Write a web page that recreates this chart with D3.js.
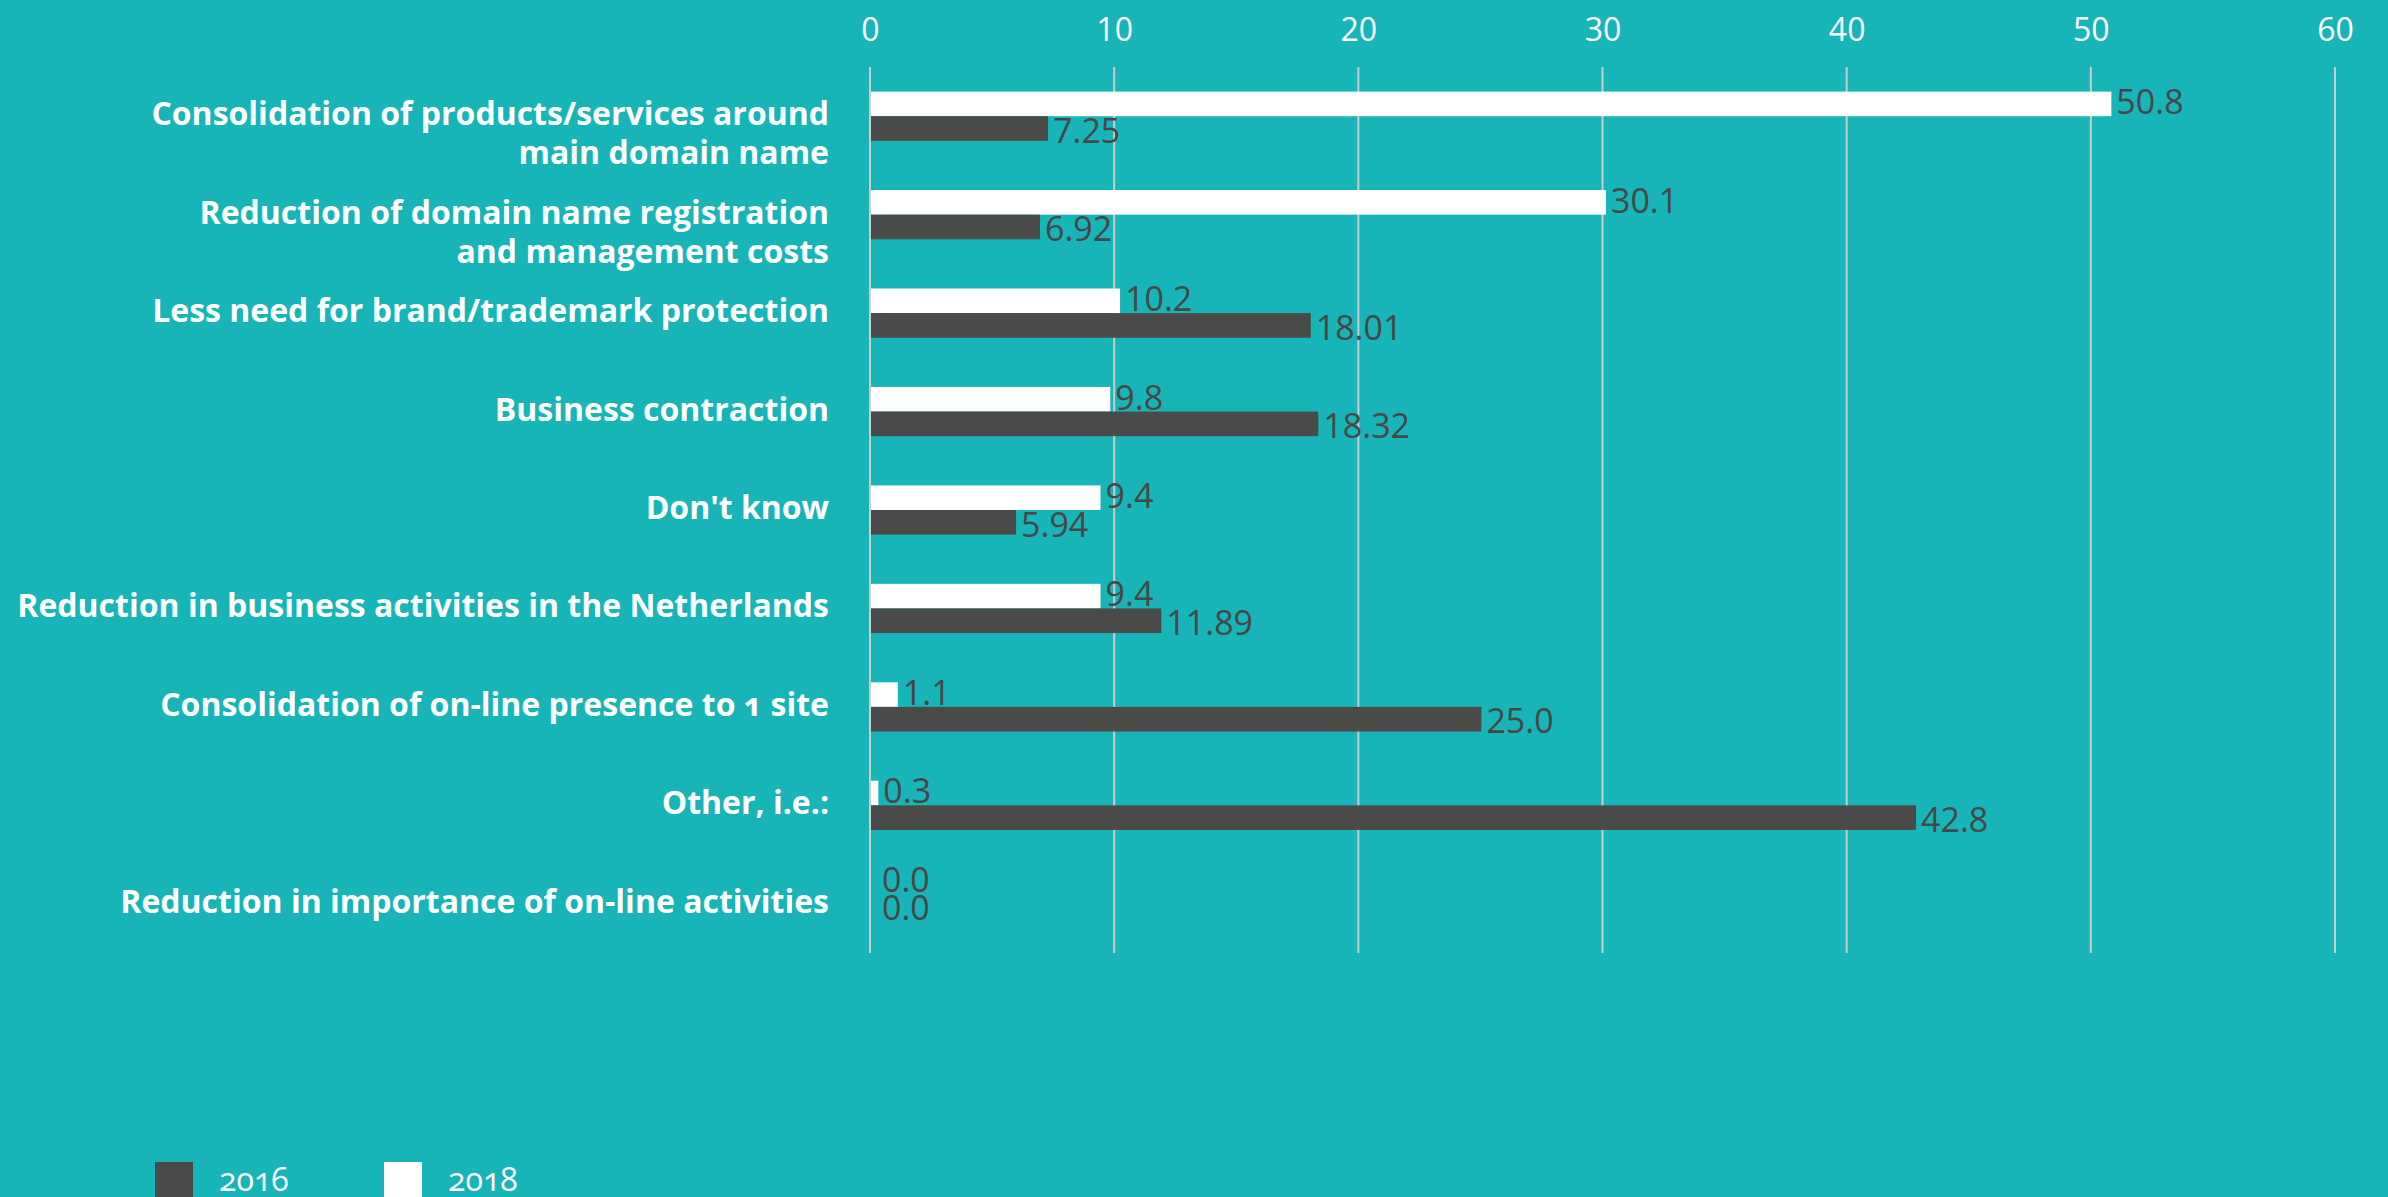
<!DOCTYPE html>
<html>
<head>
<meta charset="utf-8">
<script src="https://cdn.jsdelivr.net/npm/d3@7/dist/d3.min.js"></script>
<style>
  html, body { margin: 0; padding: 0; background: #17b4b8; overflow: hidden; }
  svg { display: block; }
  .cat { font-family: "Open Sans", Lato, sans-serif; font-weight: 700; fill: #ffffff; font-variant-numeric: oldstyle-nums; }
  .tick-label { font-family: "Open Sans", sans-serif; fill: #ffffff; }
  .val { font-family: "Open Sans", sans-serif; fill: #474747; }
  .legend-text { font-family: "Open Sans", sans-serif; fill: #ffffff; font-variant-numeric: oldstyle-nums; }
</style>
</head>
<body>
<svg id="chart" width="2388" height="1197"></svg>
<script>
// Reasons given for dropping domain names, share of respondents (%)
const categories = [
  ["Consolidation of products/services around", "main domain name"],
  ["Reduction of domain name registration", "and management costs"],
  ["Less need for brand/trademark protection"],
  ["Business contraction"],
  ["Don't know"],
  ["Reduction in business activities in the Netherlands"],
  ["Consolidation of on-line presence to 1 site"],
  ["Other, i.e.:"],
  ["Reduction in importance of on-line activities"]
];
const values2018 = [50.8, 30.1, 10.2, 9.8, 9.4, 9.4, 1.1, 0.3, 0.0];
const values2016 = [7.25, 6.92, 18.01, 18.32, 5.94, 11.89, 25.0, 42.8, 0.0];
const seriesNames = ["2018", "2016"];
const legendNames = ["2016", "2018"];
const xTicks = [0, 10, 20, 30, 40, 50, 60];

const colors = { "2016": "#4a4a48", "2018": "#ffffff" };

const svg = d3.select("#chart");

const x = d3.scaleLinear().domain([0, 60]).range([870, 2335]);
const y = d3.scaleBand()
  .domain(d3.range(categories.length))
  .range([67, 953])
  .paddingInner(0.5)
  .paddingOuter(0.25);
const ySub = d3.scaleBand().domain(seriesNames).range([0, y.bandwidth()]);

// vertical grid lines
svg.append("g").selectAll("line")
  .data(xTicks)
  .join("line")
  .attr("x1", d => x(d)).attr("x2", d => x(d))
  .attr("y1", 67).attr("y2", 953)
  .attr("stroke", "#cbcbcb")
  .attr("stroke-width", 2);

// top axis labels
const axis = d3.axisTop(x).tickValues(xTicks).tickSize(0).tickPadding(0);
const gAxis = svg.append("g").attr("transform", "translate(0,41)").call(axis);
gAxis.select(".domain").remove();
gAxis.selectAll("text")
  .attr("class", "tick-label")
  .attr("font-size", 32)
  .attr("dy", 0);

// category labels (right-aligned, second line hangs below)
const catG = svg.append("g").selectAll("text")
  .data(categories)
  .join("text")
  .attr("class", "cat")
  .attr("font-size", 32)
  .attr("text-anchor", "end")
  .attr("x", 829)
  .attr("y", (d, i) => y(i) + y.bandwidth() / 2 + 9);
catG.selectAll("tspan")
  .data(d => d)
  .join("tspan")
  .attr("x", 829)
  .attr("dy", (d, j) => j === 0 ? 0 : 39)
  .text(d => d);

// bars
const rows = categories.map((c, i) => ({
  i,
  series: [
    { key: "2018", value: values2018[i] },
    { key: "2016", value: values2016[i] }
  ]
}));

const fmt = v => (Number.isInteger(v * 10) ? v.toFixed(1) : String(v));

const groups = svg.append("g").selectAll("g")
  .data(rows)
  .join("g")
  .attr("transform", d => `translate(0,${y(d.i)})`);

groups.selectAll("rect")
  .data(d => d.series)
  .join("rect")
  .attr("x", x(0) + 1)
  .attr("y", d => ySub(d.key))
  .attr("width", d => Math.max(0, x(d.value) - x(0)))
  .attr("height", ySub.bandwidth())
  .attr("fill", d => colors[d.key]);

// value labels; empty bars get their labels stacked a little higher
groups.selectAll("text")
  .data(d => d.series)
  .join("text")
  .attr("class", "val")
  .attr("font-size", 34)
  .attr("x", d => x(d.value) + 6 + (d.value === 0 ? 6 : 0))
  .attr("y", d => ySub(d.key) + ySub.bandwidth() + (d.key === "2016" ? 2 : -2) + (d.value === 0 ? -10 : 0))
  .text(d => fmt(d.value));

// legend
const legend = svg.append("g").selectAll("g")
  .data(legendNames)
  .join("g")
  .attr("transform", (d, i) => `translate(${155 + i * 229},1162)`);
legend.append("rect")
  .attr("width", 38).attr("height", 38)
  .attr("fill", d => colors[d]);
legend.append("text")
  .attr("class", "legend-text")
  .attr("x", 64).attr("y", 29)
  .attr("font-size", 32)
  .text(d => d);
</script>
</body>
</html>
